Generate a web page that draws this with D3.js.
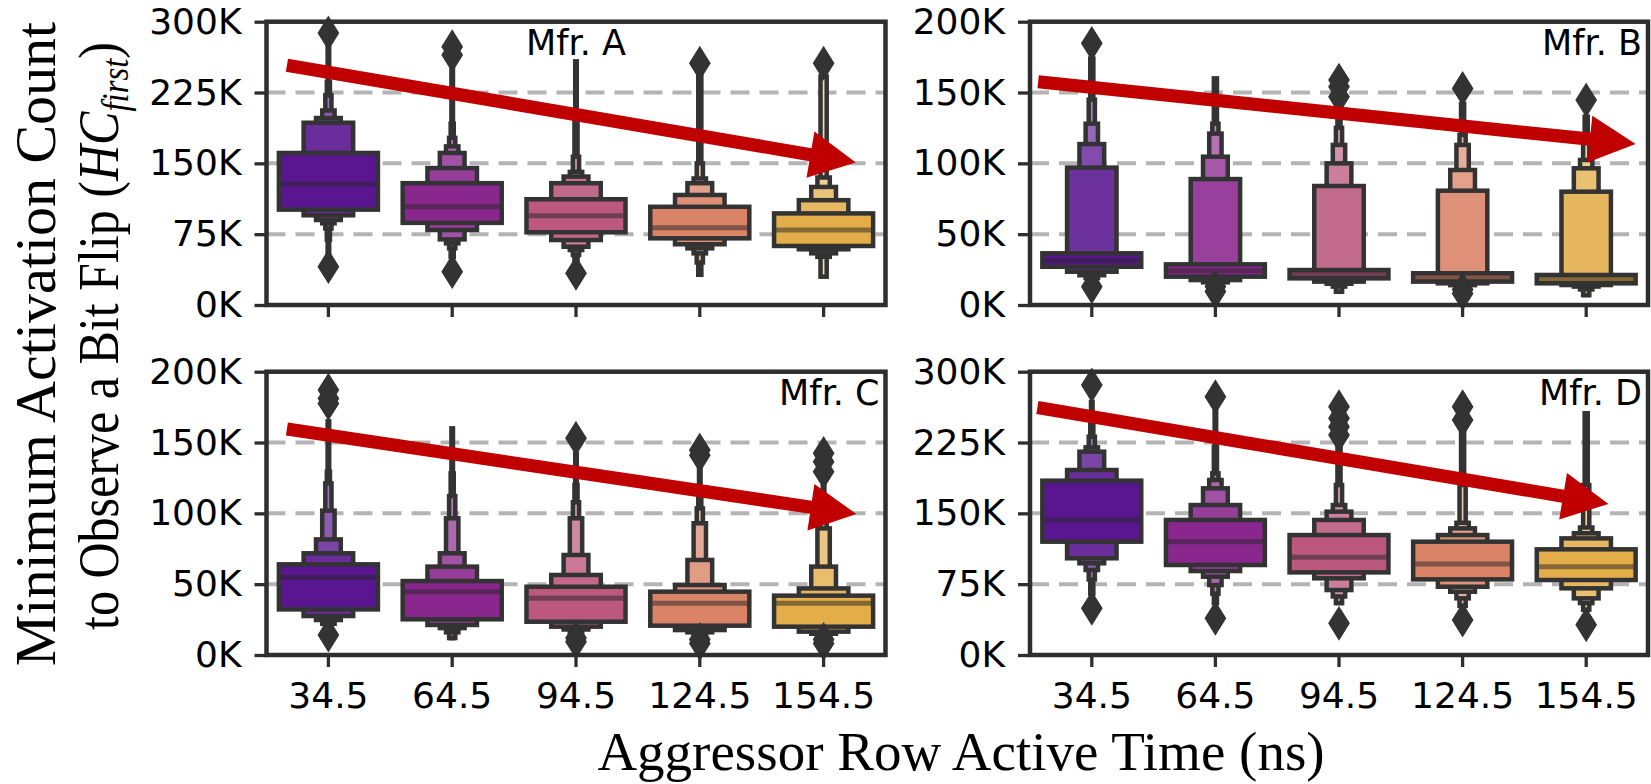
<!DOCTYPE html>
<html>
<head>
<meta charset="utf-8">
<script src="https://cdn.jsdelivr.net/npm/d3@7"></script>
<style>
  body { margin: 0; background: #fff; }
  svg { display: block; }
</style>
</head>
<body>
<svg id="chart" width="1651" height="784"></svg>
<script>
// ---- categories, panels, ticks (values in thousands) ----
const categories = ["34.5", "64.5", "94.5", "124.5", "154.5"];
const panelNames = ["Mfr. A", "Mfr. B", "Mfr. C", "Mfr. D"];
const yMaxK = [300, 200, 200, 300];
const yTicksK = [[0, 75, 150, 225, 300], [0, 50, 100, 150, 200], [0, 50, 100, 150, 200], [0, 75, 150, 225, 300]];
const boxColors = ["#5a1691", "#8a278e", "#bb587c", "#da8366", "#e3ad49"];

// ---- letter values per box: medians, upper and lower bounds (inner -> outer), outliers ----
const mfrA_median = [127.8, 104, 94.6, 81.9, 79.4];
const mfrA_upper = [
  [161, 193, 198, 206, 222, 236, 275],
  [129, 145, 161, 168, 177, 192, 250],
  [112, 129, 136, 141, 157, 200, 258],
  [104, 116.5, 129, 134, 150, 242],
  [97, 111, 125, 135, 242]
];
const mfrA_lower = [
  [101, 95, 90, 86.5, 81, 69, 48],
  [87, 79.4, 69.5, 65.3, 60, 51],
  [77, 68.8, 61.7, 58.2, 53, 48],
  [70.6, 64.3, 60, 54.7, 45, 32],
  [62.5, 59, 54.7, 51, 30]
];
const mfrA_outliers = [[288, 40.6], [273.5, 264.7, 35.3], [33.5], [256], [256]];

const mfrB_median = [31.3, 24.2, 21.7, 19.3, 18.1];
const mfrB_upper = [
  [36.5, 97, 113.6, 128, 145, 174],
  [28.7, 88.9, 104.7, 121, 128, 160],
  [24.7, 84, 100, 113, 125, 142],
  [22.4, 80.7, 95.3, 113, 120, 142],
  [21.2, 80, 96.5, 102.4, 115, 133]
];
const mfrB_lower = [
  [27, 23.5, 21, 19],
  [20, 17.6, 16, 14],
  [18.8, 16.5, 15, 13, 9.4],
  [16.5, 15.3, 14, 12],
  [15.3, 14.1, 13, 11, 7]
];
const mfrB_outliers = [[184.7, 12.9], [13, 9.5], [158.8, 154, 147], [152.9, 11, 8.2], [144.7]];

const mfrC_median = [54.8, 44.7, 40, 36.5, 36.5];
const mfrC_upper = [
  [64, 71.8, 81.6, 101.9, 121.2, 129.4, 165],
  [52.2, 62.4, 71.8, 96.5, 112.2, 128.2, 160],
  [48.2, 56.5, 70.6, 96.5, 107.8, 120, 142],
  [44.7, 49.4, 67.1, 93, 103.5, 115, 131],
  [41.9, 47, 62.4, 89.4, 100, 110, 120]
];
const mfrC_lower = [
  [32.2, 27.5, 24.7, 22, 20],
  [25.2, 21.2, 19, 16, 12],
  [23.5, 20, 18, 16],
  [20.7, 17.6, 16, 14],
  [20, 16.5, 15, 13]
];
const mfrC_outliers = [[187, 181, 177.6, 14.1], [], [153, 12, 9.4], [144.7, 141, 11, 8.2], [142.4, 136.5, 129.4, 11, 8.2]];

const mfrD_median = [143, 120, 103.4, 96.4, 93.5];
const mfrD_upper = [
  [184.6, 195.9, 215.3, 219.9, 231.2, 243.5, 268],
  [143, 158.8, 176.5, 185.3, 192.4, 220, 258],
  [127, 143, 151.8, 158.8, 180, 225],
  [120, 127, 134.1, 140, 180, 235],
  [111.9, 123.5, 128.9, 135, 180, 256]
];
const mfrD_lower = [
  [120, 102.4, 97.1, 90, 80, 65],
  [95.3, 88.9, 82.9, 74.1, 65, 55],
  [87.5, 81.2, 68.8, 62, 55],
  [80.1, 72.3, 67, 60, 52],
  [79.4, 70.6, 60, 55, 48]
];
const mfrD_outliers = [[285.9, 49.4], [273.5, 38.8], [262.9, 250.6, 241.8, 233, 33.5], [262.9, 248.8, 37], [32]];

// ---- trend arrows: [category position, value in K] for tail and tip ----
const arrowFrom = [[-0.335, 254], [-0.434, 157.6], [-0.335, 159.5], [-0.44, 262]];
const arrowTo = [[4.26, 151], [4.40, 113.7], [4.265, 99.5], [4.18, 160]];

const boxData = [
  { median: mfrA_median, upper: mfrA_upper, lower: mfrA_lower, outliers: mfrA_outliers },
  { median: mfrB_median, upper: mfrB_upper, lower: mfrB_lower, outliers: mfrB_outliers },
  { median: mfrC_median, upper: mfrC_upper, lower: mfrC_lower, outliers: mfrC_outliers },
  { median: mfrD_median, upper: mfrD_upper, lower: mfrD_lower, outliers: mfrD_outliers }
];

// ---- layout ----
const frames = [
  { x0: 266.5, x1: 885.5, y0: 21.7, y1: 305 },
  { x0: 1030, x1: 1648, y0: 21.7, y1: 305 },
  { x0: 266.5, x1: 885.5, y0: 371.7, y1: 655 },
  { x0: 1030, x1: 1648, y0: 371.7, y1: 655 }
];
const labelAlign = ["middle", "end", "end", "end"];
const INK = "#2e2e2e";
const GRAY = "#333333";
const TICK_FONT = "DejaVu Sans";
const TITLE_FONT = "Liberation Serif";
const LW = 4.5;

const svg = d3.select("#chart");

frames.forEach((f, p) => {
  const g = svg.append("g");
  const x = d3.scaleBand().domain(categories).range([f.x0, f.x1]).paddingInner(0).paddingOuter(0);
  const y = d3.scaleLinear().domain([0, yMaxK[p]]).range([f.y1, f.y0]);
  const pos = idx => x(categories[0]) + x.bandwidth() / 2 + idx * x.step();
  const boxW = 0.8 * x.step();

  // dashed horizontal grid at interior ticks
  g.append("g").selectAll("line")
    .data(yTicksK[p].filter(t => t > 0 && t < yMaxK[p]))
    .join("line")
    .attr("x1", f.x0).attr("x2", f.x1)
    .attr("y1", d => y(d)).attr("y2", d => y(d))
    .attr("stroke", "#b4b4b4").attr("stroke-width", 4)
    .attr("stroke-dasharray", "19 10");

  // letter-value boxes
  const d = boxData[p];
  categories.forEach((c, i) => {
    const cx = x(c) + x.bandwidth() / 2;
    const up = d.upper[i], lo = d.lower[i];
    const k = Math.max(up.length, lo.length);
    const bg = g.append("g");
    for (let lv = k - 1; lv >= 0; lv--) {
      const hi = up[Math.min(lv, up.length - 1)];
      const lw = lo[Math.min(lv, lo.length - 1)];
      const w = boxW * Math.pow(0.5, lv);
      const fill = d3.interpolateRgb(boxColors[i], "#ffffff")(0.7 * lv / k);
      bg.append("rect")
        .attr("x", cx - w / 2).attr("width", w)
        .attr("y", y(hi)).attr("height", Math.max(0, y(lw) - y(hi)))
        .attr("fill", fill).attr("stroke", GRAY).attr("stroke-width", LW);
    }
    // median
    bg.append("line")
      .attr("x1", cx - boxW / 2 + 2).attr("x2", cx + boxW / 2 - 2)
      .attr("y1", y(d.median[i])).attr("y2", y(d.median[i]))
      .attr("stroke", "rgba(38,38,38,0.5)").attr("stroke-width", 5);
    // outliers as thin diamonds
    bg.selectAll("path.out").data(d.outliers[i]).join("path")
      .attr("class", "out")
      .attr("d", v => {
        const yy = y(v);
        return `M${cx},${yy - 16}L${cx + 10},${yy}L${cx},${yy + 16}L${cx - 10},${yy}Z`;
      })
      .attr("fill", GRAY).attr("stroke", GRAY).attr("stroke-width", 1.5);
  });

  // frame
  g.append("rect")
    .attr("x", f.x0).attr("y", f.y0)
    .attr("width", f.x1 - f.x0).attr("height", f.y1 - f.y0)
    .attr("fill", "none").attr("stroke", INK).attr("stroke-width", LW);

  // y axis
  const ya = g.append("g").attr("transform", `translate(${f.x0},0)`)
    .call(d3.axisLeft(y).tickValues(yTicksK[p]).tickFormat(v => v + "K").tickSize(12).tickPadding(13));
  // x axis
  const xa = g.append("g").attr("transform", `translate(0,${f.y1})`)
    .call(d3.axisBottom(x).tickSize(12).tickPadding(15).tickFormat(p >= 2 ? (v => v) : () => ""));
  [ya, xa].forEach(a => {
    a.select(".domain").remove();
    a.selectAll(".tick line").attr("stroke", INK).attr("stroke-width", 3.3);
    a.selectAll(".tick text").attr("fill", "#000")
      .attr("font-family", TICK_FONT).attr("font-size", 36);
  });

  // manufacturer label
  const lx = labelAlign[p] === "middle" ? (f.x0 + f.x1) / 2 : f.x1 - 6;
  g.append("text")
    .attr("x", lx).attr("y", f.y0 + 33.5)
    .attr("text-anchor", labelAlign[p])
    .attr("font-family", TICK_FONT).attr("font-size", 35)
    .attr("fill", "#000")
    .text(panelNames[p]);

  // trend arrow
  const sx = pos(arrowFrom[p][0]), sy = y(arrowFrom[p][1]);
  const tx = pos(arrowTo[p][0]), ty = y(arrowTo[p][1]);
  const len = Math.hypot(tx - sx, ty - sy);
  const ux = (tx - sx) / len, uy = (ty - sy) / len;
  const nx = -uy, ny = ux;
  const shaft = 6.6, head = 23.5, headLen = 46;
  const bx = tx - ux * headLen, by = ty - uy * headLen;
  const pts = [
    [sx + nx * shaft, sy + ny * shaft],
    [bx + nx * shaft, by + ny * shaft],
    [bx + nx * head, by + ny * head],
    [tx, ty],
    [bx - nx * head, by - ny * head],
    [bx - nx * shaft, by - ny * shaft],
    [sx - nx * shaft, sy - ny * shaft]
  ];
  g.append("path")
    .attr("d", "M" + pts.map(q => q.join(",")).join("L") + "Z")
    .attr("fill", "#c00000");
});

// y-axis title (two lines, rotated)
svg.append("text")
  .attr("transform", "translate(55,344) rotate(-90)")
  .attr("text-anchor", "middle")
  .attr("font-family", TITLE_FONT).attr("font-size", 58).attr("fill", "#000")
  .text("Minimum Activation Count");

const yTitle2 = svg.append("text")
  .attr("transform", "translate(118,336) rotate(-90)")
  .attr("text-anchor", "middle")
  .attr("font-family", TITLE_FONT).attr("font-size", 58).attr("fill", "#000")
  .attr("textLength", 588).attr("lengthAdjust", "spacingAndGlyphs");
yTitle2.append("tspan").text("to Observe a Bit Flip (");
yTitle2.append("tspan").attr("font-style", "italic").text("HC");
yTitle2.append("tspan").attr("font-style", "italic").attr("font-size", 38).attr("dy", 10).text("first");
yTitle2.append("tspan").attr("dy", -10).text(")");

// x-axis title
svg.append("text")
  .attr("x", 961).attr("y", 770)
  .attr("text-anchor", "middle")
  .attr("font-family", TITLE_FONT).attr("font-size", 55).attr("fill", "#000")
  .text("Aggressor Row Active Time (ns)");
</script>
</body>
</html>
